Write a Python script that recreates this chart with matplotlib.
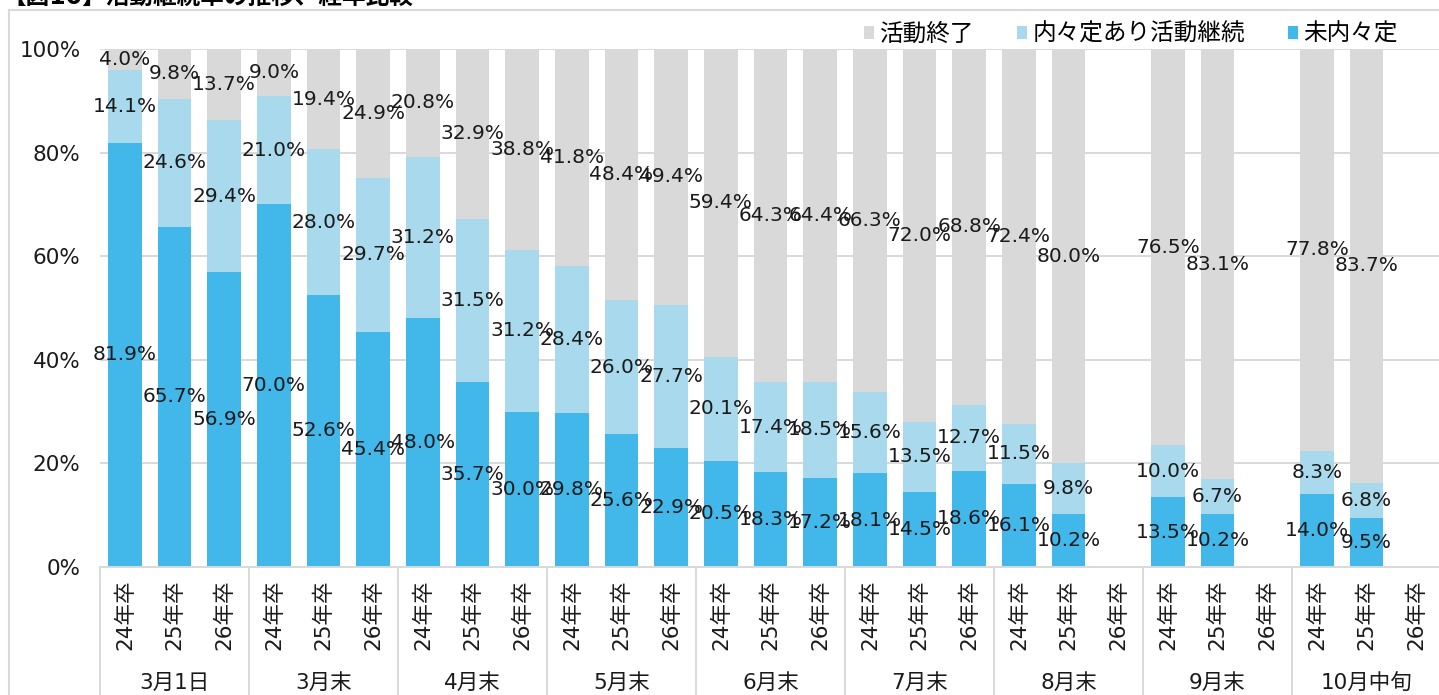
import numpy as np
import matplotlib
matplotlib.use("Agg")
import matplotlib.pyplot as plt
from matplotlib.lines import Line2D

plt.rcParams['font.family'] = ['DejaVu Sans', 'Noto Sans CJK JP']

# --- data ---
periods = ['3月1日', '3月末', '4月末', '5月末', '6月末', '7月末', '8月末', '9月末', '10月中旬']
cohorts = ['24年卒', '25年卒', '26年卒']
series_names = ['未内々定', '内々定あり活動継続', '活動終了']

no_offer = [81.9, 65.7, 56.9,  70.0, 52.6, 45.4,  48.0, 35.7, 30.0,
            29.8, 25.6, 22.9,  20.5, 18.3, 17.2,  18.1, 14.5, 18.6,
            16.1, 10.2, np.nan,  13.5, 10.2, np.nan,  14.0, 9.5, np.nan]
offer_continue = [14.1, 24.6, 29.4,  21.0, 28.0, 29.7,  31.2, 31.5, 31.2,
                  28.4, 26.0, 27.7,  20.1, 17.4, 18.5,  15.6, 13.5, 12.7,
                  11.5, 9.8, np.nan,  10.0, 6.7, np.nan,  8.3, 6.8, np.nan]
finished = [4.0, 9.8, 13.7,  9.0, 19.4, 24.9,  20.8, 32.9, 38.8,
            41.8, 48.4, 49.4,  59.4, 64.3, 64.4,  66.3, 72.0, 68.8,
            72.4, 80.0, np.nan,  76.5, 83.1, np.nan,  77.8, 83.7, np.nan]

colors = {'未内々定': '#41b7ea', '内々定あり活動継続': '#a9d9ec', '活動終了': '#d9d9d9'}

W, H = 1439, 695
fig = plt.figure(figsize=(W / 100, H / 100), dpi=100)
ax = fig.add_axes([100 / W, 1 - 567 / H, 1341 / W, 518 / H])

x = np.arange(len(no_offer))
xlabels = cohorts * len(periods)

a = np.array(no_offer) / 100
b = np.array(offer_continue) / 100
c = np.array(finished) / 100

bw = 0.68
ax.bar(x, a, bw, color=colors['未内々定'], label='未内々定', zorder=2)
ax.bar(x, b, bw, bottom=a, color=colors['内々定あり活動継続'], label='内々定あり活動継続', zorder=2)
ax.bar(x, c, bw, bottom=a + b, color=colors['活動終了'], label='活動終了', zorder=2)

# data labels, centred in each segment
for vals, bottoms in [(a, np.zeros_like(a)), (b, a), (c, a + b)]:
    for xi, v, bt in zip(x, vals, bottoms):
        if np.isnan(v):
            continue
        ax.text(xi, bt + v / 2, f'{v * 100:.1f}%', ha='center', va='center',
                fontsize=14.5, color='#1a1a1a', zorder=3)

ax.set_xlim(-0.5, len(x) - 0.5)
ax.set_ylim(0, 1)
ticks = np.arange(0, 1.01, 0.2)
ax.set_yticks(ticks)
ax.set_yticklabels([f'{int(round(t * 100))}%' for t in ticks])
ax.yaxis.grid(True, color='#d9d9d9', lw=1.4, zorder=0)
ax.set_axisbelow(True)
ax.tick_params(axis='y', length=0, pad=14, labelsize=15.5, colors='#1a1a1a')

ax.set_xticks(x)
ax.set_xticklabels(xlabels, rotation=90, va='top', fontsize=15.5)
ax.tick_params(axis='x', length=0, pad=9, colors='#1a1a1a')

for s in ['top', 'right', 'left']:
    ax.spines[s].set_visible(False)
ax.spines['bottom'].set_color('#d9d9d9')
ax.spines['bottom'].set_linewidth(1.4)

# group separators and group labels
trans = ax.get_xaxis_transform()
for g in range(len(periods)):
    left = g * 3 - 0.5
    ax.plot([left, left], [0, -0.26], transform=trans, color='#d9d9d9', lw=1.4, clip_on=False)
    ax.text(g * 3 + 1, -0.224, periods[g], transform=trans, ha='center', va='center',
            fontsize=15.5, color='#1a1a1a')

# legend
handles, labs = ax.get_legend_handles_labels()
order = [2, 1, 0]
ax.legend([handles[i] for i in order], [labs[i] for i in order], ncol=3,
          loc='center right', bbox_to_anchor=(0.968, 1.029), frameon=False,
          fontsize=17, handlelength=0.42, handleheight=0.42, handletextpad=0.25,
          columnspacing=1.8, borderaxespad=0, borderpad=0)

# outer chart frame
fig.add_artist(Line2D([9 / W, 1], [1 - 10 / H, 1 - 10 / H], color='#d9d9d9', lw=1.5))
fig.add_artist(Line2D([9 / W, 9 / W], [0, 1 - 10 / H], color='#d9d9d9', lw=1.5))

# title (cut off at the top edge like the source)
fig.text(2 / W, 1 - 4 / H, '【図10】活動継続率の推移、経年比較', ha='left', va='baseline',
         fontsize=17, fontweight='bold', color='#000000')

fig.savefig('out.png', dpi=100)
